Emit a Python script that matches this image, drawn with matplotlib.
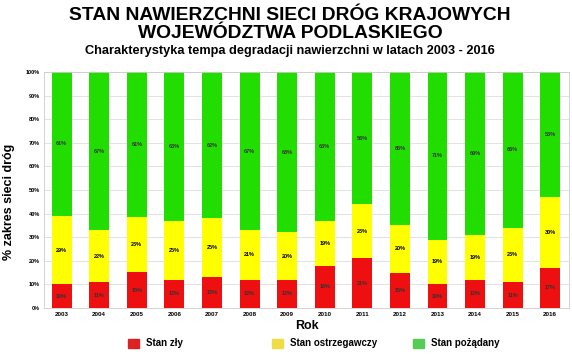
import numpy as np
import matplotlib
matplotlib.use("Agg")
import matplotlib.pyplot as plt
from matplotlib.patches import Rectangle

plt.rcParams['font.family'] = ['Liberation Sans', 'DejaVu Sans']

years = ['2003', '2004', '2005', '2006', '2007', '2008', '2009',
         '2010', '2011', '2012', '2013', '2014', '2015', '2016']
zly = [10, 11, 15, 12, 13, 12, 12, 18, 21, 15, 10, 12, 11, 17]
ostrz = [29, 22, 23, 25, 25, 21, 20, 19, 23, 20, 19, 19, 23, 30]
pozad = [61, 67, 61, 63, 62, 67, 68, 63, 56, 65, 71, 69, 66, 53]

c_red = '#ee1010'
c_yel = '#ffff00'
c_grn = '#22dd00'

fig = plt.figure(figsize=(5.72, 3.54), dpi=100)
ax = fig.add_axes([44 / 572, 1 - 308 / 354, 525 / 572, 236 / 354])

x = np.arange(len(years))
w = 0.53
zly = np.array(zly, dtype=float)
ostrz = np.array(ostrz, dtype=float)
pozad = np.array(pozad, dtype=float)
# 100% stacked: scale each column to its total
tot = zly + ostrz + pozad
h_r = zly / tot * 100
h_y = ostrz / tot * 100
h_g = pozad / tot * 100
ax.bar(x, h_r, w, color=c_red, zorder=2)
ax.bar(x, h_y, w, bottom=h_r, color=c_yel, zorder=2)
ax.bar(x, h_g, w, bottom=h_r + h_y, color=c_grn, zorder=2)

for i in range(len(years)):
    ax.text(x[i], h_r[i] / 2, f'{zly[i]:.0f}%', ha='center', va='center', fontsize=4, color='#333333', fontweight='bold')
    ax.text(x[i], h_r[i] + h_y[i] / 2, f'{ostrz[i]:.0f}%', ha='center', va='center', fontsize=4, fontweight='bold')
    ax.text(x[i], h_r[i] + h_y[i] + h_g[i] / 2, f'{pozad[i]:.0f}%', ha='center', va='center', fontsize=4, color='#333333', fontweight='bold')

ax.set_xlim(-0.47, len(years) - 0.5)
ax.set_ylim(0, 100)
ax.set_yticks(np.arange(0, 101, 10))
ax.set_yticklabels([f'{v}%' for v in range(0, 101, 10)], fontsize=4, fontweight='bold')
ax.set_xticks(x)
ax.set_xticklabels(years, fontsize=4.5, fontweight='bold')
ax.tick_params(length=0, pad=3)
ax.grid(axis='y', color='#dddddd', linewidth=0.6, zorder=0)
for s in ax.spines.values():
    s.set_color('#cccccc')
    s.set_linewidth(0.6)

ax.set_xlabel('Rok', fontsize=9, fontweight='bold', labelpad=2)
ax.set_ylabel('% zakres sieci dróg', fontsize=9, fontweight='bold', labelpad=4)
ax.yaxis.set_label_coords(-0.055, 0.45)

fig.text(290 / 572, 1 - 16 / 354, 'STAN NAWIERZCHNI SIECI DRÓG KRAJOWYCH',
         ha='center', va='center', fontsize=13.9, fontweight='bold')
fig.text(290 / 572, 1 - 33 / 354, 'WOJEWÓDZTWA PODLASKIEGO',
         ha='center', va='center', fontsize=13.9, fontweight='bold')
fig.text(290 / 572, 1 - 51 / 354, 'Charakterystyka tempa degradacji nawierzchni w latach 2003 - 2016',
         ha='center', va='center', fontsize=9.2, fontweight='bold')

# legend drawn by hand to match the uneven spacing
leg_labels = ['Stan zły', 'Stan ostrzegawczy', 'Stan pożądany']
leg_colors = ['#dd2222', '#eedd44', '#55cc55']
leg_x = [128, 272, 413]
for lx, lab, col in zip(leg_x, leg_labels, leg_colors):
    fig.patches.append(Rectangle((lx / 572, 1 - 348 / 354), 11 / 572, 9 / 354,
                                 transform=fig.transFigure, color=col))
    fig.text((lx + 18) / 572, 1 - 343 / 354, lab, ha='left', va='center',
             fontsize=7, fontweight='bold')

fig.savefig('out.png', dpi=100)
